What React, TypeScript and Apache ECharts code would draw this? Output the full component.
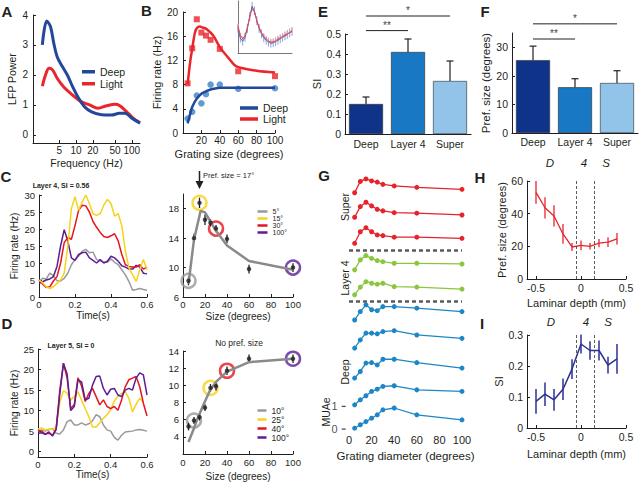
import React, { useEffect, useRef } from "react";
import * as echarts from "echarts";

const FONT = "'Liberation Sans', Arial, Helvetica, sans-serif";
const INK = "#231f20";

// ---------- Panel A: LFP power spectra ----------
const aDeepFreq = [2.5, 3.0, 3.5, 4.0, 4.6, 5.7, 7.0, 8.7, 10.7, 14.2, 18.7, 28.5, 43, 60, 75, 100, 140];
const aDeepPower = [3.0, 3.8, 3.61, 3.06, 2.61, 2.28, 2.0, 1.61, 1.28, 0.94, 0.78, 0.67, 0.66, 0.72, 0.72, 0.56, 0.39];
const aLightFreq = [2.5, 2.85, 3.3, 3.8, 4.6, 6.1, 8.7, 12.3, 17.5, 24.8, 35, 50, 60, 80, 105, 140];
const aLightPower = [1.63, 2.0, 2.22, 2.17, 1.89, 1.59, 1.33, 1.11, 1.0, 0.89, 0.97, 1.02, 0.98, 0.78, 0.56, 0.41];
const aFreqTicks = [5, 10, 20, 50, 100];
const aPowerTicks = [0, 1, 2, 3, 4];
const aFreqRange = [1.7, 140];

// ---------- Panel B: size tuning, deep vs light ----------
const bSizes = [5, 10, 15, 20, 25, 30, 40, 60, 100];
const bLightRates = [8.2, 14.0, 18.8, 16.6, 16.1, 15.4, 13.9, 10.2, 9.4];
const bDeepRates = [2.4, 3.5, 6.2, 4.9, 6.4, 8.0, 8.0, 7.3, 7.4];
const bLightFitSizes = [5, 8, 10, 12.8, 15, 18, 22, 25.5, 32.8, 40, 50, 58, 80, 100];
const bLightFit = [8, 12, 13.9, 16.5, 17.3, 17.6, 17.4, 17.2, 16.1, 14.2, 12.3, 11.0, 10.3, 10.0];
const bDeepFitSizes = [5, 7.5, 10, 14.6, 20, 25.5, 30, 40, 60, 100];
const bDeepFit = [1.6, 3.0, 4.3, 5.6, 6.5, 6.9, 7.2, 7.5, 7.5, 7.5];

// inset
const insetPos = [0, 1, 2, 3, 4, 5, 6, 7, 8, 9, 10, 11, 12, 13, 14, 15, 16, 17, 18, 19, 20, 21, 22, 23];
const insetLight = [27.7, 18, 14.4, 17.7, 26, 37, 45.4, 42, 33, 26, 21, 17, 14.4, 12.5, 11, 11.5, 12.5, 14.4, 15.5, 17, 18.5, 19.5, 21, 22.7];
const insetDeep = [25, 15, 12, 16, 25, 37, 47.5, 43, 33, 25, 19.5, 15.5, 13, 11, 10, 10.5, 11.5, 13, 14.5, 16, 17.5, 19, 20.5, 22];
const insetLightErr = [2.5, 2.5, 2.5, 2.5, 2.5, 2.5, 2.5, 2.5, 2.5, 2.5, 2.5, 2.5, 2.5, 2.5, 2.5, 2.5, 2.5, 2.5, 2.5, 2.5, 2.5, 2.5, 2.5, 2.5];
const insetDeepErr = [4.5, 4.5, 4.5, 4.5, 4.5, 4.5, 4.5, 4.5, 4.5, 4.5, 4.5, 4.5, 4.5, 4.5, 4.5, 4.5, 4.5, 4.5, 4.5, 4.5, 4.5, 4.5, 4.5, 4.5];

// ---------- Panels C / D: PSTHs ----------
const times = [0, 0.02, 0.04, 0.06, 0.08, 0.1, 0.12, 0.14, 0.16, 0.18, 0.2, 0.22, 0.24, 0.26, 0.28, 0.3, 0.32, 0.34, 0.36, 0.38, 0.4, 0.42, 0.44, 0.46, 0.48, 0.5, 0.52, 0.54, 0.56, 0.58, 0.6];
const cRate5 = [4.6, 5.5, 5.3, 7, 6.3, 4.8, 4.7, 5.5, 7, 9.5, 11, 12, 13.5, 14, 13, 13.2, 11, 10.7, 10.2, 10.2, 11.2, 10.2, 9.5, 8, 6.5, 4.5, 2, 2.2, 2.5, 2.2, 2];
const cRate15 = [5, 4.2, 3, 2.5, 3, 4, 5, 7, 15, 26, 29.5, 25.5, 28, 30, 27.5, 24.5, 24, 24.5, 27, 28.7, 27.5, 23.8, 24.5, 21, 13.5, 8.5, 6.5, 4.6, 8, 11, 8];
const cRate30 = [5, 3.8, 2.8, 3, 4.7, 6, 10, 16, 17.5, 17, 21, 25.5, 27, 26.8, 25, 22.2, 20.5, 19, 17.8, 17.5, 18, 18.6, 16.5, 12.5, 9.5, 9, 8.8, 8.8, 9.5, 8.2, 8.8];
const cRate100 = [4, 4.5, 5, 5.3, 6, 9, 15, 19.8, 16.5, 11.5, 10.8, 12.5, 13, 13.2, 11.5, 10.8, 10, 11, 10, 10.5, 12, 11.5, 10.5, 9.2, 8.8, 8.2, 8.2, 9.3, 8.8, 7, 6.8];
const dRate10 = [5, 5.3, 5, 5.3, 5.6, 4.5, 4.3, 5.3, 7.3, 7.7, 6.5, 6.5, 7, 6.5, 6.8, 7.5, 9, 8.5, 6.5, 5.3, 5, 3.5, 2.8, 4, 4.8, 4.9, 5, 5.3, 5.4, 5.2, 5];
const dRate25 = [5.5, 5.8, 5.3, 5.5, 5.4, 6, 12, 14.8, 14.3, 12.5, 13.5, 14.6, 12.5, 10.5, 8.5, 6, 6, 7, 8.1, 9, 10.2, 12.3, 13.5, 14.2, 14.6, 13, 9.7, 11.5, 13, 12, null];
const dRate40 = [5.2, 5, 4.3, 4.5, 4, 5.5, 15, 21.5, 18, 10.5, 11.5, 18, 16, 12.2, 14.2, 15.4, 13.4, 11.4, 12.6, 11, 10.5, 11, 10.1, 12.6, 15.8, 17.5, 17.9, 18.3, 15.8, 11.8, 8.7];
const dRate100 = [4.5, 4.6, 4.2, 4.8, 3.8, 5.5, 14, 21.5, 19, 10, 11, 17.5, 17, 12.6, 13, 16.2, 18.3, 18.4, 15.4, 13.8, 15.2, 15.4, 13.8, 13.4, 15, 15.4, 15, 17.9, 19.2, 18.7, 13.8];

// size tuning of the example units
const tuneSizes = [5, 10, 15, 20, 25, 30, 40, 60, 100];
const cMean = [8.2, 14.0, 18.8, 16.5, 16.1, 15.3, 13.9, 9.8, 10.0];
const cErr = [0.6, 0.6, 0.7, 0.7, 0.5, 0.5, 0.6, 0.6, 0.6];
const cFitSizes = [5, 10, 16, 20, 30, 40, 60, 100];
const cFit = [7.8, 13.8, 17.7, 17.5, 15, 13, 10.9, 9.7];
const cCondSizes = [5, 15, 30, 100];
const cCondNames = ["5°", "15°", "30°", "100°"];
const dMean = [5.2, 5.9, 6.3, 7.4, 9.7, 9.9, 11.7, 13.1, 13.1];
const dErr = [0.45, 0.4, 0.4, 0.4, 0.45, 0.5, 0.5, 0.5, 0.5];
const dFitSizes = [5, 10, 12.5, 18.5, 24.5, 30, 40, 60, 100];
const dFit = [3.4, 5.0, 5.9, 7.7, 9.4, 10.4, 11.6, 12.7, 13.1];
const dCondSizes = [10, 25, 40, 100];
const dCondNames = ["10°", "25°", "40°", "100°"];

// ---------- Panels E / F: layer averages ----------
const layers = ["Deep", "Layer 4", "Super"];
const eSI = [0.15, 0.41, 0.265];
const eSIErr = [0.035, 0.065, 0.1];
const fPref = [25.5, 16, 17.5];
const fPrefErr = [4.9, 3, 4.3];
const sigPairs = [[0, 1, "**"], [0, 2, "*"]];
const eSigLevels = [0.517, 0.59];
const fSigLevels = [32.9, 38.2];

// ---------- Panel G: stacked MUAe tuning ----------
const gSizes = [5, 10, 15, 20, 25, 30, 40, 60, 100];
const gTraces = [
  [0.02, 0.52, 0.63, 0.54, 0.49, 0.39, 0.32, 0.26, 0.17],
  [0.04, 0.51, 0.7, 0.54, 0.39, 0.32, 0.24, 0.22, 0.14],
  [0.04, 0.55, 0.73, 0.55, 0.41, 0.38, 0.31, 0.31, 0.26],
  [0.02, 0.46, 0.65, 0.53, 0.43, 0.38, 0.31, 0.31, 0.28],
  [0.02, 0.36, 0.6, 0.53, 0.49, 0.53, 0.38, 0.36, 0.27],
  [0.01, 0.38, 0.68, 0.46, 0.42, 0.6, 0.6, 0.53, 0.38],
  [0.02, 0.38, 0.68, 0.68, 0.65, 0.75, 0.79, 0.6, 0.45],
  [0.05, 0.34, 0.71, 0.73, 0.63, 0.88, 0.88, 0.73, 0.49],
  [0.02, 0.24, 0.42, 0.61, 0.71, 0.83, 0.86, 0.68, 0.61],
  [0.04, 0.19, 0.33, 0.48, 0.63, 0.85, 0.93, 0.63, 0.41],
];
const gTraceLayer = ["super", "super", "super", "l4", "l4", "deep", "deep", "deep", "deep", "deep"];
const gStackOffsets = [10.4, 9.3, 8.15, 7.0, 5.9, 4.8, 3.55, 2.2, 1.05, 0];
const gLayerBoundaries = [7.9, 5.62];
const gScaleBar = [0, 1];

// ---------- Panels H / I: laminar profiles ----------
const depth = [-0.5, -0.4, -0.3, -0.2, -0.1, 0, 0.1, 0.2, 0.3, 0.4];
const hPref = [53, 43.6, 38.6, 27.6, 19.6, 20.6, 20, 22, 22.6, 24.6];
const hPrefErr = [7, 6.5, 6.5, 6, 2.5, 3, 2, 2.5, 3, 3.5];
const iSI = [0.086, 0.109, 0.091, 0.125, 0.19, 0.271, 0.25, 0.25, 0.203, 0.223];
const iSIErr = [0.04, 0.038, 0.035, 0.035, 0.032, 0.031, 0.03, 0.032, 0.027, 0.048];
const layer4Bounds = [-0.05, 0.15];
const depthTicks = [-0.5, 0, 0.5];

// ---------- colours ----------
const C_DEEP = "#22479b";
const C_LIGHT = "#e8262c";
const C_DEEP_PTS = "#3b82c6";
const COND_COLORS = ["#9a9a9a", "#f6d21c", "#e3161f", "#5b1e96"];
const BAR_COLORS = ["#10338a", "#1878c3", "#92c4ea"];
const G_COLORS: any = { super: "#e4232b", l4: "#8cc63e", deep: "#1d87c5" };
const H_COLOR = "#e2272e";
const I_COLOR = "#2d3192";
const STAR_COLOR = "#444444";

const GA = 0, GB = 1, GBI = 2, GCL = 3, GCR = 4, GDL = 5, GDR = 6, GE = 7, GEO = 8, GF = 9, GFO = 10, GG = 11, GH = 12, GI = 13;

const zip = (xs: number[], ys: any[]) => xs.map((x, i) => [x, ys[i]]);

const axisBase: any = {
  axisLine: { show: true, onZero: false, lineStyle: { color: INK, width: 1 } },
  axisTick: { show: true, inside: true, length: 3, lineStyle: { color: INK, width: 1 } },
  axisLabel: { show: true, color: INK, fontSize: 10, fontFamily: FONT, margin: 3 },
  splitLine: { show: false },
  nameLocation: "middle",
  nameTextStyle: { color: INK, fontSize: 10.5, fontFamily: FONT },
};
function ax(o: any) {
  return {
    ...axisBase,
    ...o,
    axisLine: { ...axisBase.axisLine, ...(o.axisLine || {}) },
    axisTick: { ...axisBase.axisTick, ...(o.axisTick || {}) },
    axisLabel: { ...axisBase.axisLabel, ...(o.axisLabel || {}) },
    nameTextStyle: { ...axisBase.nameTextStyle, ...(o.nameTextStyle || {}) },
  };
}
const hidden = (o: any) => ({ show: false, splitLine: { show: false }, axisLine: { onZero: false }, ...o });

function errBars(color: string, width: number, cap: number) {
  return (params: any, api: any) => {
    const x = api.value(0);
    const a = api.coord([x, api.value(1)]);
    const b = api.coord([x, api.value(2)]);
    const children: any[] = [
      { type: "line", shape: { x1: a[0], y1: a[1], x2: b[0], y2: b[1] }, style: { stroke: color, lineWidth: width } },
    ];
    if (cap > 0) {
      children.push({ type: "line", shape: { x1: b[0] - cap / 2, y1: b[1], x2: b[0] + cap / 2, y2: b[1] }, style: { stroke: color, lineWidth: width } });
    }
    return { type: "group", children };
  };
}
function errSeries(idx: number, xs: number[], lo: number[], hi: number[], color: string, width: number, cap: number) {
  return {
    type: "custom",
    xAxisIndex: idx,
    yAxisIndex: idx,
    silent: true,
    renderItem: errBars(color, width, cap),
    encode: { x: 0, y: [1, 2] },
    itemStyle: { color },
    data: xs.map((x, i) => [x, lo[i], hi[i]]),
    z: 3,
  };
}

function txt(x: number, y: number, s: string, o: any = {}, rotation = 0) {
  return {
    type: "text",
    x,
    y,
    rotation,
    silent: true,
    style: { text: s, fontFamily: FONT, fill: INK, fontSize: 11, align: "center", verticalAlign: "middle", ...o },
  };
}

function buildGraphic(starTexts: any[]) {
  const bold = { fontWeight: "bold", fontSize: 15 };
  return [
    txt(7, 11, "A", bold), txt(146.5, 10, "B", bold), txt(6, 176, "C", bold), txt(7, 323, "D", bold),
    txt(323, 11, "E", bold), txt(485, 11, "F", bold), txt(324, 175, "G", bold), txt(480, 177, "H", bold), txt(482, 323, "I", bold),
    txt(61, 185, "Layer 4, SI = 0.56", { fontWeight: "bold", fontSize: 7 }),
    txt(71, 345, "Layer 5, SI = 0", { fontWeight: "bold", fontSize: 7 }),
    txt(203, 175, "Pref. size = 17°", { fontSize: 7.5, align: "left" }),
    txt(239, 343, "No pref. size", { fontSize: 8.5 }),
    { type: "line", silent: true, shape: { x1: 199.5, y1: 171, x2: 199.5, y2: 183 }, style: { stroke: INK, lineWidth: 1.5 } },
    { type: "polygon", silent: true, shape: { points: [[195.5, 181], [203.5, 181], [199.5, 189]] }, style: { fill: INK } },
    txt(345, 207, "Super", { fontSize: 10.5 }, Math.PI / 2),
    txt(345, 278, "Layer 4", { fontSize: 10.5 }, Math.PI / 2),
    txt(345, 372, "Deep", { fontSize: 10.5 }, Math.PI / 2),
    txt(326, 412, "MUAe", { fontSize: 10.5 }, Math.PI / 2),
    txt(550, 163, "D", { fontSize: 11.5, fontStyle: "italic" }),
    txt(584, 163, "4", { fontSize: 11.5, fontStyle: "italic" }),
    txt(606, 163, "S", { fontSize: 11.5, fontStyle: "italic" }),
    txt(551, 322, "D", { fontSize: 11.5, fontStyle: "italic" }),
    txt(586, 322, "4", { fontSize: 11.5, fontStyle: "italic" }),
    txt(608, 322, "S", { fontSize: 11.5, fontStyle: "italic" }),
    ...starTexts,
  ];
}

function buildOption() {
  const gridBoxes = [
    [33, 15, 107, 128],
    [183, 12, 92, 121],
    [238, 1, 54, 52],
    [39, 195, 108, 102],
    [183, 194, 110, 103],
    [38, 349, 109, 108],
    [183, 351, 110, 103],
    [345, 34, 126, 100],
    [345, 4, 126, 130],
    [512, 33, 126, 100],
    [512, 13, 126, 120],
    [349, 178, 113, 252],
    [527, 181, 99, 98],
    [527, 335, 99, 93],
  ];
  const grid = gridBoxes.map(([left, top, width, height]) => ({ left, top, width, height, containLabel: false, outerBoundsMode: "none" }));

  const xAxis: any[] = [];
  const yAxis: any[] = [];
  // A
  xAxis[GA] = ax({
    gridIndex: GA, type: "value", min: Math.log10(aFreqRange[0]), max: Math.log10(aFreqRange[1]),
    axisLabel: { customValues: aFreqTicks.map(Math.log10), formatter: (v: number) => String(Math.round(Math.pow(10, v))), margin: 2 },
    axisTick: { customValues: aFreqTicks.map(Math.log10) },
    name: "Frequency (Hz)", nameGap: 14,
  });
  yAxis[GA] = ax({
    gridIndex: GA, type: "value", min: -0.27, max: 4,
    axisLabel: { customValues: aPowerTicks, margin: 5 }, axisTick: { customValues: aPowerTicks },
    name: "LFP Power", nameGap: 16,
  });
  // B
  xAxis[GB] = ax({ gridIndex: GB, type: "value", min: 0, max: 100, interval: 20, axisLabel: { showMinLabel: false, margin: 2 }, name: "Grating size (degrees)", nameGap: 15, nameTextStyle: { fontSize: 11 } });
  yAxis[GB] = ax({ gridIndex: GB, type: "value", min: 0, max: 20, interval: 4, axisLabel: { margin: 5 }, name: "Firing rate (Hz)", nameGap: 21, nameTextStyle: { fontSize: 11 } });
  xAxis[GBI] = ax({ gridIndex: GBI, type: "value", min: 0, max: 23, axisLabel: { show: false }, axisTick: { show: false }, axisLine: { lineStyle: { color: "#555", width: 0.8 } } });
  yAxis[GBI] = ax({ gridIndex: GBI, type: "value", min: 0, max: 53, axisLabel: { show: false }, axisTick: { show: false }, axisLine: { lineStyle: { color: "#555", width: 0.8 } } });
  // C
  xAxis[GCL] = ax({ gridIndex: GCL, type: "value", min: 0, max: 0.6, interval: 0.2, axisLabel: { fontSize: 9.5, margin: 2 }, name: "Time(s)", nameGap: 13, nameTextStyle: { fontSize: 10 } });
  yAxis[GCL] = ax({ gridIndex: GCL, type: "value", min: 0, max: 30, interval: 5, axisLabel: { fontSize: 9.5, margin: 4 }, name: "Firing rate (Hz)", nameGap: 20, nameTextStyle: { fontSize: 10 } });
  xAxis[GCR] = ax({ gridIndex: GCR, type: "value", min: 0, max: 100, interval: 20, axisLabel: { fontSize: 9.5, margin: 2 }, name: "Size (degrees)", nameGap: 14, nameTextStyle: { fontSize: 10 } });
  yAxis[GCR] = ax({ gridIndex: GCR, type: "value", min: 6, max: 20, interval: 4, axisLabel: { fontSize: 9.5, margin: 4, showMaxLabel: false } });
  // D
  xAxis[GDL] = ax({ gridIndex: GDL, type: "value", min: 0, max: 0.6, interval: 0.2, axisLabel: { fontSize: 9.5, margin: 2 }, name: "Time(s)", nameGap: 12, nameTextStyle: { fontSize: 10 } });
  yAxis[GDL] = ax({
    gridIndex: GDL, type: "value", min: -1.3, max: 25,
    axisLabel: { fontSize: 9.5, margin: 4, customValues: [0, 5, 10, 15, 20, 25] }, axisTick: { customValues: [0, 5, 10, 15, 20, 25] },
    name: "Firing rate (Hz)", nameGap: 18, nameTextStyle: { fontSize: 10 },
  });
  xAxis[GDR] = ax({ gridIndex: GDR, type: "value", min: 0, max: 100, interval: 20, axisLabel: { fontSize: 9.5, margin: 3 }, name: "Size (degrees)", nameGap: 17, nameTextStyle: { fontSize: 10 } });
  yAxis[GDR] = ax({ gridIndex: GDR, type: "value", min: 2, max: 14, interval: 2, axisLabel: { fontSize: 9.5, margin: 4, showMinLabel: false } });
  // E
  xAxis[GE] = ax({ gridIndex: GE, type: "category", data: layers, axisTick: { show: false }, axisLabel: { fontSize: 10.5, margin: 4, interval: 0 } });
  yAxis[GE] = ax({ gridIndex: GE, type: "value", min: 0, max: 0.5, interval: 0.1, axisLabel: { fontSize: 10.5, margin: 4 }, name: "SI", nameGap: 19, nameTextStyle: { fontSize: 11 } });
  xAxis[GEO] = hidden({ gridIndex: GEO, type: "value", min: -0.5, max: 2.5 });
  yAxis[GEO] = hidden({ gridIndex: GEO, type: "value", min: 0, max: 0.65 });
  // F
  xAxis[GF] = ax({ gridIndex: GF, type: "category", data: layers, axisTick: { show: false }, axisLabel: { fontSize: 10.5, margin: 3, interval: 0 } });
  yAxis[GF] = ax({ gridIndex: GF, type: "value", min: 0, max: 35, interval: 10, axisLabel: { fontSize: 10.5, margin: 4, showMaxLabel: false }, name: "Pref. size (degrees)", nameGap: 18, nameTextStyle: { fontSize: 11.5 } });
  xAxis[GFO] = hidden({ gridIndex: GFO, type: "value", min: -0.5, max: 2.5 });
  yAxis[GFO] = hidden({ gridIndex: GFO, type: "value", min: 0, max: 42 });
  // G
  xAxis[GG] = ax({ gridIndex: GG, type: "value", min: 0, max: 100, interval: 20, axisLine: { show: false }, axisTick: { show: false }, axisLabel: { fontSize: 11, margin: 4 }, name: "Grating diameter (degrees)", nameGap: 19, nameTextStyle: { fontSize: 11.5 } });
  yAxis[GG] = hidden({ gridIndex: GG, type: "value", min: -0.04, max: 11.07 });
  // H
  xAxis[GH] = ax({
    gridIndex: GH, type: "value", min: -0.6, max: 0.5,
    axisLabel: { customValues: depthTicks, fontSize: 10.5, margin: 3 }, axisTick: { customValues: depthTicks },
    name: "Laminar depth (mm)", nameGap: 18, nameTextStyle: { fontSize: 11 },
  });
  yAxis[GH] = ax({ gridIndex: GH, type: "value", min: 0, max: 60, interval: 20, axisLabel: { fontSize: 10.5, margin: 4 }, name: "Pref. size (degrees)", nameGap: 19, nameTextStyle: { fontSize: 11 } });
  // I
  xAxis[GI] = ax({
    gridIndex: GI, type: "value", min: -0.6, max: 0.5,
    axisLabel: { customValues: depthTicks, fontSize: 10.5, margin: 3 }, axisTick: { customValues: depthTicks },
    name: "Laminar depth (mm)", nameGap: 20, nameTextStyle: { fontSize: 11 },
  });
  yAxis[GI] = ax({ gridIndex: GI, type: "value", min: 0, max: 0.3, interval: 0.1, axisLabel: { fontSize: 10.5, margin: 4 }, name: "SI", nameGap: 20, nameTextStyle: { fontSize: 11 } });

  const series: any[] = [];
  const line = (idx: number, name: string, data: any[], color: string, width: number, extra: any = {}) => ({
    type: "line", name, xAxisIndex: idx, yAxisIndex: idx, data, showSymbol: false, symbol: "none",
    lineStyle: { color, width }, itemStyle: { color }, silent: true, clip: false, ...extra,
  });

  // A
  series.push(line(GA, "Light", zip(aLightFreq.map(Math.log10), aLightPower), C_LIGHT, 3, { smooth: 0.35 }));
  series.push(line(GA, "Deep", zip(aDeepFreq.map(Math.log10), aDeepPower), C_DEEP, 3, { smooth: 0.35 }));
  // B
  series.push(line(GB, "Deep", zip(bDeepFitSizes, bDeepFit), C_DEEP, 2.5, { smooth: 0.3 }));
  series.push(line(GB, "Light", zip(bLightFitSizes, bLightFit), C_LIGHT, 2.5, { smooth: 0.3 }));
  series.push({ type: "scatter", name: "Deep points", xAxisIndex: GB, yAxisIndex: GB, data: zip(bSizes, bDeepRates), symbol: "circle", symbolSize: 6.5, itemStyle: { color: C_DEEP_PTS }, silent: true });
  series.push({ type: "scatter", name: "Light points", xAxisIndex: GB, yAxisIndex: GB, data: zip(bSizes, bLightRates), symbol: "rect", symbolSize: 6, itemStyle: { color: C_LIGHT }, silent: true });
  // inset
  series.push(errSeries(GBI, insetPos, insetDeep.map((v, i) => v - insetDeepErr[i]), insetDeep.map((v, i) => v + insetDeepErr[i]), "#8ea3da", 1, 0));
  series.push(errSeries(GBI, insetPos, insetLight.map((v, i) => v - insetLightErr[i]), insetLight.map((v, i) => v + insetLightErr[i]), "#f3a0a4", 1, 0));
  series.push(line(GBI, "inset deep", zip(insetPos, insetDeep), "#4a6cc0", 1));
  series.push(line(GBI, "inset light", zip(insetPos, insetLight), "#e6454c", 1));

  // C left
  const cRates = [cRate5, cRate15, cRate30, cRate100];
  [0, 3, 2, 1].forEach((k) => series.push(line(GCL, cCondNames[k], zip(times, cRates[k]), COND_COLORS[k], 1.5)));
  // C right
  series.push(line(GCR, "C fit", zip(cFitSizes, cFit), "#8a8a8a", 2.5));
  series.push({
    type: "scatter", xAxisIndex: GCR, yAxisIndex: GCR, silent: true, symbol: "circle", symbolSize: 14,
    data: cCondSizes.map((s, k) => ({ value: [s, cMean[tuneSizes.indexOf(s)]], itemStyle: { color: "rgba(0,0,0,0)", borderColor: COND_COLORS[k], borderWidth: 2.5 } })),
  });
  series.push(errSeries(GCR, tuneSizes, cMean.map((v, i) => v - cErr[i]), cMean.map((v, i) => v + cErr[i]), INK, 1.3, 0));
  series.push({ type: "scatter", xAxisIndex: GCR, yAxisIndex: GCR, silent: true, data: zip(tuneSizes, cMean), symbolSize: 4.5, itemStyle: { color: INK }, z: 4 });

  // D left
  const dRates = [dRate10, dRate25, dRate40, dRate100];
  [0, 1, 2, 3].forEach((k) => series.push(line(GDL, dCondNames[k], zip(times, dRates[k]), COND_COLORS[k], 1.5)));
  // D right
  series.push(line(GDR, "D fit", zip(dFitSizes, dFit), "#8a8a8a", 2.5));
  series.push({
    type: "scatter", xAxisIndex: GDR, yAxisIndex: GDR, silent: true, symbol: "circle", symbolSize: 14,
    data: dCondSizes.map((s, k) => ({ value: [s, dMean[tuneSizes.indexOf(s)]], itemStyle: { color: "rgba(0,0,0,0)", borderColor: COND_COLORS[k], borderWidth: 2.5 } })),
  });
  series.push(errSeries(GDR, tuneSizes, dMean.map((v, i) => v - dErr[i]), dMean.map((v, i) => v + dErr[i]), INK, 1.3, 0));
  series.push({ type: "scatter", xAxisIndex: GDR, yAxisIndex: GDR, silent: true, data: zip(tuneSizes, dMean), symbolSize: 4.5, itemStyle: { color: INK }, z: 4 });

  // E / F bars
  const barSeries = (idx: number, vals: number[]) => ({
    type: "bar", xAxisIndex: idx, yAxisIndex: idx, barWidth: 34, silent: true,
    data: vals.map((v, i) => ({ value: v, itemStyle: { color: BAR_COLORS[i], borderColor: "#2a2a2a", borderWidth: 0.6 } })),
  });
  const layerIdx = [0, 1, 2];
  series.push(barSeries(GE, eSI));
  series.push(errSeries(GEO, layerIdx, eSI, eSI.map((v, i) => v + eSIErr[i]), INK, 1.2, 7));
  series.push(barSeries(GF, fPref));
  series.push(errSeries(GFO, layerIdx, fPref, fPref.map((v, i) => v + fPrefErr[i]), INK, 1.2, 7));
  const sig = (idx: number, levels: number[]) => {
    sigPairs.forEach((p: any, k) => {
      series.push(line(idx, "sig" + idx + k, [[p[0], levels[k]], [p[1], levels[k]]], INK, 1));
    });
  };
  sig(GEO, eSigLevels);
  sig(GFO, fSigLevels);

  // G
  gTraces.forEach((tr, k) => {
    const col = G_COLORS[gTraceLayer[k]];
    const s: any = line(GG, "G" + k, zip(gSizes, tr.map((v) => v + gStackOffsets[k])), col, 1.3, { showSymbol: true, symbol: "circle", symbolSize: 5 });
    if (k === 0) {
      s.markLine = {
        silent: true, symbol: "none", label: { show: false },
        lineStyle: { type: [4, 3], color: "#5a5a5a", width: 2.5 },
        data: gLayerBoundaries.map((b) => ({ yAxis: b })),
      };
    }
    series.push(s);
  });
  series.push(line(GG, "scalebar", gScaleBar.map((v) => [-6, v]), INK, 1.5));
  series.push({
    type: "scatter", xAxisIndex: GG, yAxisIndex: GG, silent: true, clip: false,
    data: gScaleBar.map((v) => [-6, v]), symbol: "rect", symbolSize: [4, 1.3], symbolOffset: [1.5, 0],
    itemStyle: { color: INK },
    label: { show: true, position: "left", distance: 4, formatter: (p: any) => String(p.value[1]), color: INK, fontSize: 11, fontFamily: FONT },
  });

  // H / I
  const boundsLine = {
    silent: true, symbol: "none", label: { show: false },
    lineStyle: { type: [3, 2], color: "#333", width: 0.8 },
    data: layer4Bounds.map((b) => ({ xAxis: b })),
  };
  series.push(errSeries(GH, depth, hPref.map((v, i) => v - hPrefErr[i]), hPref.map((v, i) => v + hPrefErr[i]), H_COLOR, 1.3, 0));
  series.push(line(GH, "H", zip(depth, hPref), H_COLOR, 1.3, { markLine: boundsLine }));
  series.push(errSeries(GI, depth, iSI.map((v, i) => v - iSIErr[i]), iSI.map((v, i) => v + iSIErr[i]), I_COLOR, 1.5, 0));
  series.push(line(GI, "I", zip(depth, iSI), I_COLOR, 1.5, { markLine: boundsLine }));

  const legendBase = { orient: "vertical", icon: "rect", padding: 0, selectedMode: false };
  const legend = [
    { ...legendBase, left: 82, top: 66, data: ["Deep", "Light"], itemWidth: 13, itemHeight: 3.5, itemGap: 0.5, itemTextGap: 3, textStyle: { fontSize: 10.5, fontFamily: FONT, color: INK, lineHeight: 11.5 } },
    { ...legendBase, left: 240, top: 102.5, data: ["Deep", "Light"], itemWidth: 18, itemHeight: 3.5, itemGap: 0, itemTextGap: 4, textStyle: { fontSize: 10.5, fontFamily: FONT, color: INK, lineHeight: 11 } },
    { ...legendBase, left: 257.5, top: 208, data: cCondNames, itemWidth: 10, itemHeight: 2.5, itemGap: 0, itemTextGap: 3, textStyle: { fontSize: 7, fontFamily: FONT, color: INK, lineHeight: 5.4 } },
    { ...legendBase, left: 257.5, top: 406, data: dCondNames, itemWidth: 9, itemHeight: 2.5, itemGap: 0, itemTextGap: 3, textStyle: { fontSize: 8.5, fontFamily: FONT, color: INK, lineHeight: 6.1 } },
  ];

  return {
    animation: false,
    backgroundColor: "#ffffff",
    textStyle: { fontFamily: FONT },
    grid,
    xAxis,
    yAxis,
    series,
    legend,
    graphic: buildGraphic([]),
  };
}

// significance stars, placed through the chart's own scales
function starGraphics(chart: any) {
  const out: any[] = [];
  const add = (idx: number, levels: number[]) => {
    sigPairs.forEach((p: any, k) => {
      const c = chart.convertToPixel({ xAxisIndex: idx, yAxisIndex: idx }, [(p[0] + p[1]) / 2, levels[k]]);
      if (!c) return;
      out.push({
        type: "text", x: c[0], y: c[1] - 0.5, silent: true,
        style: { text: p[2], fill: STAR_COLOR, fontSize: 10, fontFamily: FONT, align: "center", verticalAlign: "bottom" },
      });
    });
  };
  add(GEO, eSigLevels);
  add(GFO, fSigLevels);
  return out;
}

export default function App() {
  const ref = useRef<HTMLDivElement>(null);
  useEffect(() => {
    if (!ref.current) return;
    const chart = echarts.init(ref.current, null, { renderer: "svg", width: 640, height: 484 });
    chart.setOption(buildOption() as any);
    chart.setOption({ graphic: buildGraphic(starGraphics(chart)) } as any);
    return () => chart.dispose();
  }, []);
  return <div ref={ref} style={{ position: "absolute", left: 0, top: 0, width: 640, height: 484, background: "#fff" }} />;
}
